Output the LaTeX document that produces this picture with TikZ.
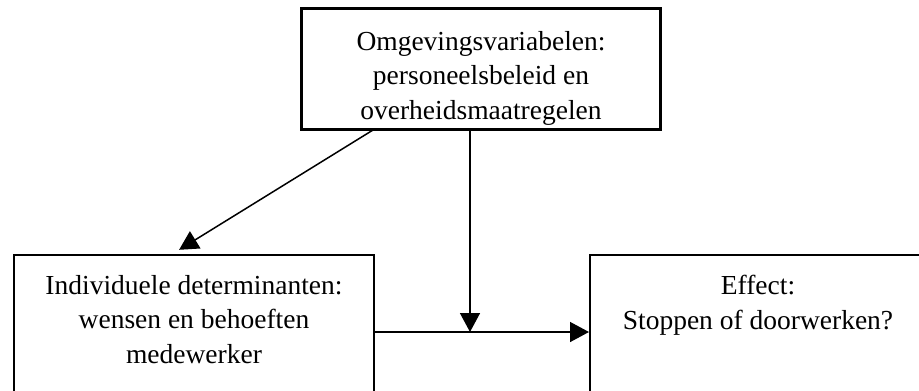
\documentclass[tikz,border=0pt]{standalone}
\usepackage{fontspec}
\setmainfont{Liberation Serif}
\usepackage{tikz}
\usetikzlibrary{calc, arrows.meta, positioning}

\tikzset{
    blok/.style={draw, line width=2bp, inner sep=0pt},
    tekst/.style={align=center, inner sep=0pt, anchor=north,
                  font=\fontsize{27.5bp}{34.5bp}\selectfont},
    pijl/.style={line width=1.5bp, -{Triangle[length=19bp, width=20bp]}}
}

\begin{document}
\begin{tikzpicture}[x=1bp, y=-1bp]
    \clip (0,0) rectangle (919,390);

      \node[blok, minimum width=358bp, minimum height=120bp] (omgeving) at (481,69) {};
      \node[blok, minimum width=360bp, minimum height=200bp] (ind) at (194,355) {};
      \node[blok, minimum width=336bp, minimum height=200bp] (effect) at (758,355) {};
      \coordinate (kruis) at (470,332);

      \begin{scope}
        \clip (omgeving.north west) rectangle ($(omgeving.south east)+(0,-3)$);
        \node[tekst] (omgtekst) at ($(omgeving.north)+(0,23)$)
            {Omgevingsvariabelen:\\ personeelsbeleid en\\ overheidsmaatregelen};
      \end{scope}
      \draw[line width=2bp] (omgeving.north west) rectangle (omgeving.south east);

      \node[tekst] (indtekst) at ($(ind.north)+(0,21)$)
          {Individuele determinanten:\\ wensen en behoeften\\ medewerker};
      \node[tekst] (efftekst) at ($(effect.north)+(0,21)$)
          {Effect:\\ Stoppen of doorwerken?};

      \draw[pijl, shorten >=8bp] ($(omgeving.south west)!0.2!(omgeving.south east)$)
          -- ($(ind.north west)!0.44!(ind.north east)$);
      \draw[pijl] (omgeving.south -| kruis) -- (kruis);
      \draw[pijl] (ind.east |- kruis) -- (effect.west |- kruis);
\end{tikzpicture}
\end{document}
